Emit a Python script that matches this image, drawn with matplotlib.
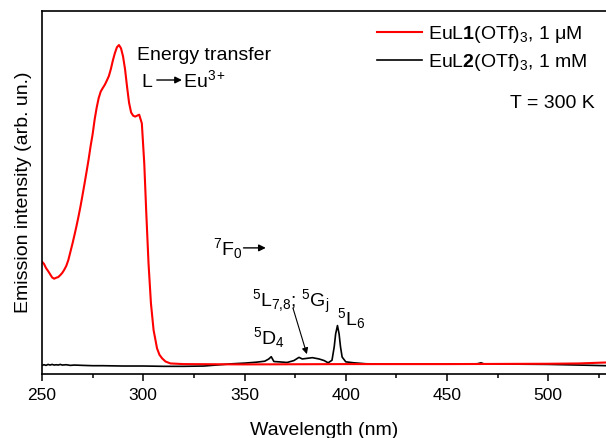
import numpy as np
import matplotlib
matplotlib.use('Agg')
import matplotlib.pyplot as plt
from matplotlib.ticker import MultipleLocator

plt.rcParams['font.family'] = ['Liberation Sans', 'DejaVu Sans']
plt.rcParams['mathtext.fontset'] = 'custom'
plt.rcParams['mathtext.rm'] = 'Liberation Sans'
plt.rcParams['mathtext.it'] = 'Liberation Sans'
plt.rcParams['mathtext.bf'] = 'Liberation Sans:bold'
plt.rcParams['mathtext.default'] = 'regular'

# EuL1(OTf)3 excitation spectrum (red)
wl_red = [250, 251, 252, 253, 254, 255, 256, 257, 258, 259, 260, 261, 262, 263, 264,
          265, 266, 267, 268, 269, 270, 271, 272, 273, 274, 275, 276, 277, 278, 279,
          280, 281, 282, 283, 284, 285, 286, 287, 288, 289, 290, 291, 292, 293, 294,
          295, 296, 297, 298, 299.3, 300.5, 301.5, 302.6, 303.8, 305.1, 306.8, 308,
          309.3, 311, 313.4, 320, 350, 400, 450, 500, 515, 528.5]
int_red = [0.325, 0.318, 0.305, 0.296, 0.286, 0.276, 0.272, 0.275, 0.277, 0.283, 0.29,
           0.30, 0.312, 0.33, 0.355, 0.38, 0.407, 0.435, 0.465, 0.497, 0.532, 0.568,
           0.605, 0.643, 0.685, 0.722, 0.768, 0.805, 0.835, 0.855, 0.866, 0.876, 0.889,
           0.903, 0.925, 0.952, 0.975, 0.993, 1.0, 0.99, 0.965, 0.925, 0.87, 0.82, 0.79,
           0.78, 0.777, 0.78, 0.783, 0.756, 0.631, 0.476, 0.32, 0.195, 0.112, 0.055,
           0.035, 0.024, 0.014, 0.008, 0.006, 0.005, 0.006, 0.006, 0.007, 0.008, 0.011]

# EuL2(OTf)3 spectrum (black)
wl_blk = [250, 251, 252, 253, 254, 255, 256, 257, 258, 259, 260, 262, 264, 266, 270,
          275, 280, 290, 300, 310, 320, 330, 338, 344, 350, 356, 360, 362, 363.2, 364.5,
          367, 371, 374.4, 376.9, 378.5, 381, 383.5, 386.8, 389.3, 391.3, 393.2, 394.3,
          395.0, 395.9, 396.7, 397.4, 398.2, 400, 404, 410, 420, 440, 460, 465, 466.8,
          468.5, 480, 500, 515, 528.5]
int_blk = [0.002, 0.004, 0.002, 0.005, 0.003, 0.005, 0.003, 0.004, 0.003, 0.005, 0.003,
           0.004, 0.002, 0.003, 0.002, 0.001, 0.001, 0.0, 0.0, -0.001, -0.001, 0.0,
           0.004, 0.007, 0.009, 0.012, 0.015, 0.022, 0.029, 0.014, 0.013, 0.011, 0.017,
           0.027, 0.022, 0.024, 0.026, 0.022, 0.017, 0.010, 0.018, 0.06, 0.10, 0.126,
           0.10, 0.06, 0.028, 0.013, 0.010, 0.007, 0.006, 0.006, 0.006, 0.007, 0.010,
           0.006, 0.006, 0.005, 0.003, 0.001]

fig = plt.figure(figsize=(6.06, 4.38), dpi=100)
ax = fig.add_axes([0.0693, 0.1461, 0.9307, 0.8288])

ax.plot(wl_blk, int_blk, color='black', lw=1.2, label=r'EuL$\mathbf{2}$(OTf)$_3$, 1 mM')
ax.plot(wl_red, int_red, color='red', lw=1.5, label=r'EuL$\mathbf{1}$(OTf)$_3$, 1 μM')

ax.set_xlim(250, 528.5)
ax.set_ylim(-0.0249, 1.106)
ax.set_yticks([])
ax.xaxis.set_major_locator(MultipleLocator(50))
ax.xaxis.set_minor_locator(MultipleLocator(25))
ax.tick_params(axis='x', which='major', direction='out', length=5, width=1.1,
               labelsize=12.5, pad=5)
ax.tick_params(axis='x', which='minor', direction='out', length=3, width=1.1)
ax.spines['right'].set_visible(False)
for s in ['left', 'top', 'bottom']:
    ax.spines[s].set_linewidth(1.2)

ax.set_xlabel('Wavelength (nm)', fontsize=14, labelpad=14)
ax.set_ylabel('Emission intensity (arb. un.)', fontsize=14, labelpad=7)

# legend: red first, black second
h, l = ax.get_legend_handles_labels()
ax.legend([h[1], h[0]], [l[1], l[0]], loc='upper left', bbox_to_anchor=(0.594, 0.965),
          frameon=False, fontsize=14, handlelength=2.3, handletextpad=0.3,
          borderpad=0, borderaxespad=0, labelspacing=0.35)
ax.text(0.9805, 0.733, 'T = 300 K', transform=ax.transAxes, ha='right',
        va='baseline', fontsize=14)

arr = dict(arrowstyle='-|>', color='black', lw=1.0, mutation_scale=10,
           shrinkA=0, shrinkB=0)
ax.text(296.9, 0.953, 'Energy transfer', fontsize=14, va='baseline')
ax.text(299.3, 0.869, 'L', fontsize=14, va='baseline')
ax.annotate('', xy=(319.1, 0.891), xytext=(306.7, 0.891), arrowprops=arr)
ax.text(319.6, 0.869, r'Eu$^{3+}$', fontsize=14, va='baseline')

ax.text(334.4, 0.346, r'$^7$F$_0$', fontsize=14, va='baseline')
ax.annotate('', xy=(360.5, 0.368), xytext=(349.5, 0.368), arrowprops=arr)

ax.text(353.6, 0.185, r'$^5$L$_{7{,}8}$; $^5$G$_j$', fontsize=14, va='baseline')
ax.annotate('', xy=(380.8, 0.037), xytext=(373.9, 0.181),
            arrowprops=dict(arrowstyle='-|>', color='black', lw=0.8,
                            mutation_scale=9, shrinkA=0, shrinkB=0))
ax.text(354.1, 0.0685, r'$^5$D$_4$', fontsize=14, va='baseline')
ax.text(395.6, 0.128, r'$^5$L$_6$', fontsize=14, va='baseline')

fig.savefig('out.png', dpi=100)
